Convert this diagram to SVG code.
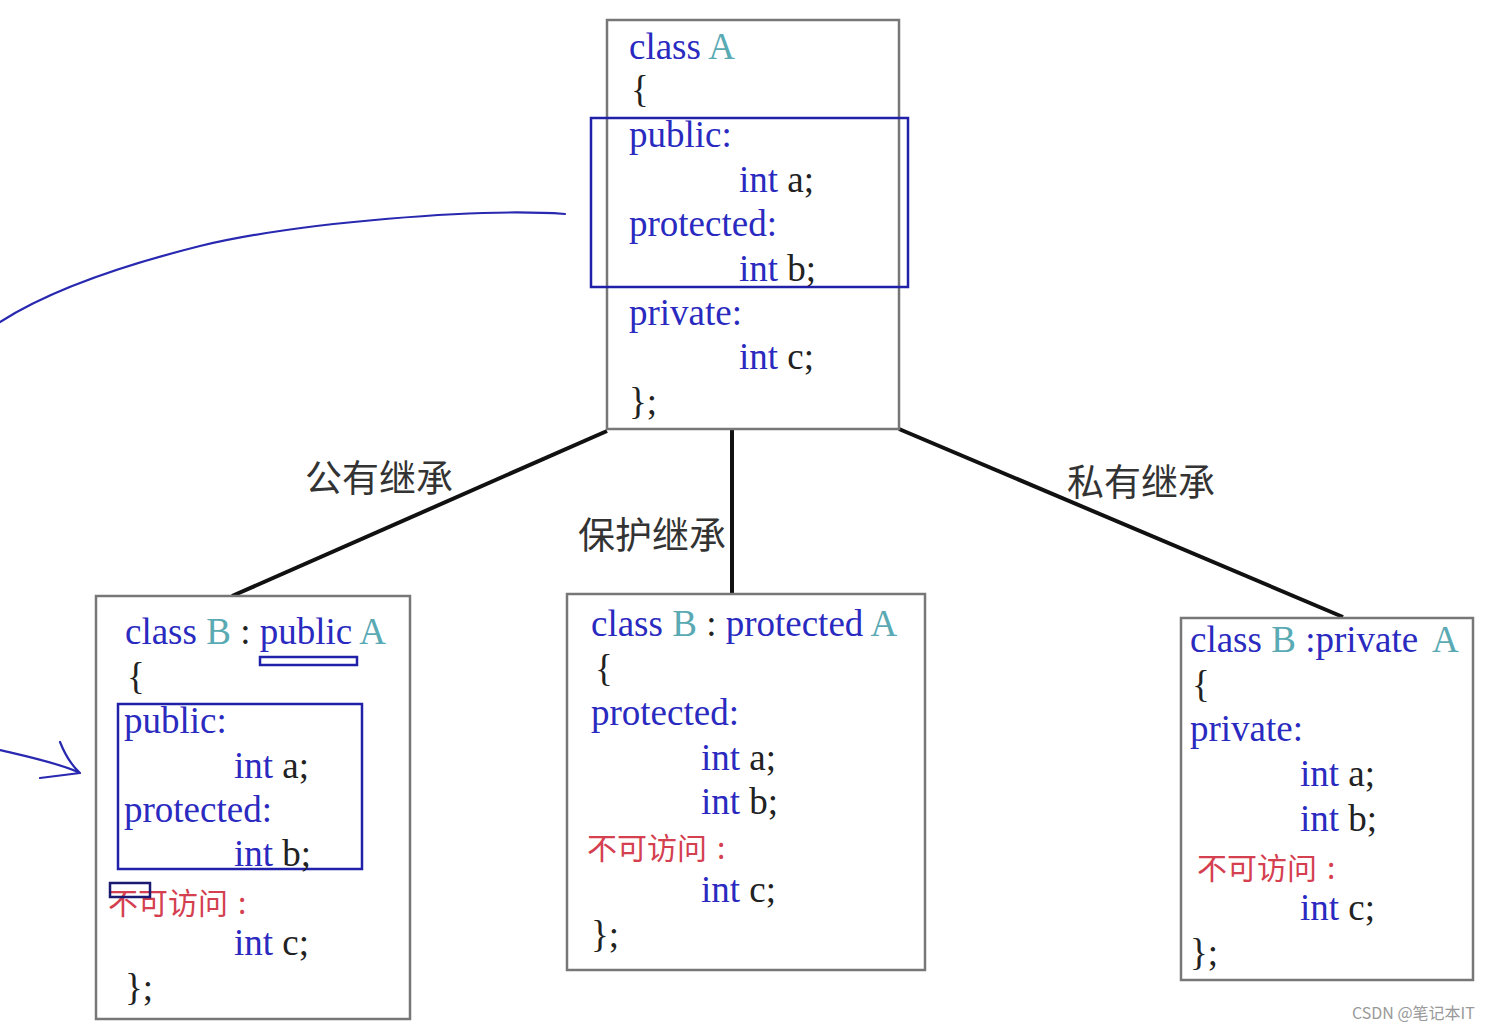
<svg xmlns="http://www.w3.org/2000/svg" width="1494" height="1031" viewBox="0 0 1494 1031">
<style>
.code{font-family:"Liberation Serif","Times New Roman",serif;font-size:37px;fill:#2a2ac0}
.k{fill:#2a2ac0}
.t{fill:#5aaab4}
.d{fill:#222}
.red{font-family:"Noto Sans CJK SC","Noto Sans",sans-serif;font-size:30px;fill:#d44050}
.lbl{font-family:"Noto Sans CJK SC","Noto Sans",sans-serif;font-size:37px;fill:#333}
.box{fill:#fff;stroke:#777;stroke-width:2.5}
.hl{fill:none;stroke:#2020a8;stroke-width:2.5}
.edge{stroke:#111;stroke-width:4;fill:none}
.pen{fill:none;stroke:#2828b0;stroke-width:2.2;stroke-linecap:round;stroke-linejoin:round}
</style>
<rect width="1494" height="1031" fill="#fff"/>

<g id="connectors">
<line class="edge" x1="607" y1="431" x2="232" y2="596"/>
<line class="edge" x1="732" y1="429" x2="732" y2="594"/>
<line class="edge" x1="899" y1="429" x2="1343" y2="617"/>
<path class="pen" d="M565,214 C480,208 300,222 200,246 C120,266 50,290 0,322"/>
<path class="pen" d="M0,750 C25,756 55,762 78,772 M60,742 C64,752 70,764 80,773 L40,778"/>
</g>

<g id="labels">
<text class="lbl" x="305" y="492">公有继承</text>
<text class="lbl" x="578" y="549">保护继承</text>
<text class="lbl" x="1067" y="496">私有继承</text>
</g>

<g id="classA">
<rect class="box" x="607" y="20" width="292" height="409"/>
<text class="code" x="629" y="59"><tspan class="k">class </tspan><tspan class="t">A</tspan></text>
<text class="code d" x="631" y="102">{</text>
<text class="code" x="629" y="147">public:</text>
<text class="code" x="739" y="192"><tspan class="k">int </tspan><tspan class="d">a;</tspan></text>
<text class="code" x="629" y="236">protected:</text>
<text class="code" x="739" y="281"><tspan class="k">int </tspan><tspan class="d">b;</tspan></text>
<text class="code" x="629" y="325">private:</text>
<text class="code" x="739" y="369"><tspan class="k">int </tspan><tspan class="d">c;</tspan></text>
<text class="code d" x="629" y="414">};</text>
<rect class="hl" x="591" y="118" width="317" height="169"/>
</g>

<g id="classB_public">
<rect class="box" x="96" y="596" width="314" height="423"/>
<text class="code" x="125" y="644"><tspan class="k">class </tspan><tspan class="t">B</tspan><tspan class="d"> : </tspan><tspan class="k">public </tspan><tspan class="t">A</tspan></text>
<rect class="hl" x="260" y="657" width="97" height="8"/>
<text class="code d" x="127" y="689">{</text>
<rect class="hl" x="118" y="704" width="244" height="165"/>
<text class="code" x="124" y="733">public:</text>
<text class="code" x="234" y="778"><tspan class="k">int </tspan><tspan class="d">a;</tspan></text>
<text class="code" x="124" y="822">protected:</text>
<text class="code" x="234" y="866"><tspan class="k">int </tspan><tspan class="d">b;</tspan></text>
<text class="red" x="108" y="914">不可访问<tspan x="238">:</tspan></text>
<rect class="hl" x="110" y="883" width="40" height="14" style="stroke:#1a1a70"/>
<text class="code" x="234" y="955"><tspan class="k">int </tspan><tspan class="d">c;</tspan></text>
<text class="code d" x="125" y="1000">};</text>
</g>

<g id="classB_protected">
<rect class="box" x="567" y="594" width="358" height="376"/>
<text class="code" x="591" y="636"><tspan class="k">class </tspan><tspan class="t">B</tspan><tspan class="d"> : </tspan><tspan class="k">protected </tspan><tspan class="t">A</tspan></text>
<text class="code d" x="595" y="681">{</text>
<text class="code" x="591" y="725">protected:</text>
<text class="code" x="701" y="770"><tspan class="k">int </tspan><tspan class="d">a;</tspan></text>
<text class="code" x="701" y="814"><tspan class="k">int </tspan><tspan class="d">b;</tspan></text>
<text class="red" x="587" y="859">不可访问<tspan x="717">:</tspan></text>
<text class="code" x="701" y="902"><tspan class="k">int </tspan><tspan class="d">c;</tspan></text>
<text class="code d" x="591" y="947">};</text>
</g>

<g id="classB_private">
<rect class="box" x="1181" y="618" width="292" height="362"/>
<text class="code" x="1190" y="652"><tspan class="k">class </tspan><tspan class="t">B</tspan><tspan class="k"> :private</tspan><tspan class="t" x="1432">A</tspan></text>
<text class="code d" x="1192" y="697">{</text>
<text class="code" x="1190" y="741">private:</text>
<text class="code" x="1300" y="786"><tspan class="k">int </tspan><tspan class="d">a;</tspan></text>
<text class="code" x="1300" y="831"><tspan class="k">int </tspan><tspan class="d">b;</tspan></text>
<text class="red" x="1197" y="879">不可访问<tspan x="1327">:</tspan></text>
<text class="code" x="1300" y="920"><tspan class="k">int </tspan><tspan class="d">c;</tspan></text>
<text class="code d" x="1190" y="965">};</text>
</g>

<text x="1352" y="1019" style="font-family:'Noto Sans CJK SC','Noto Sans',sans-serif;font-size:16px;fill:#999">CSDN @笔记本IT</text>
</svg>
